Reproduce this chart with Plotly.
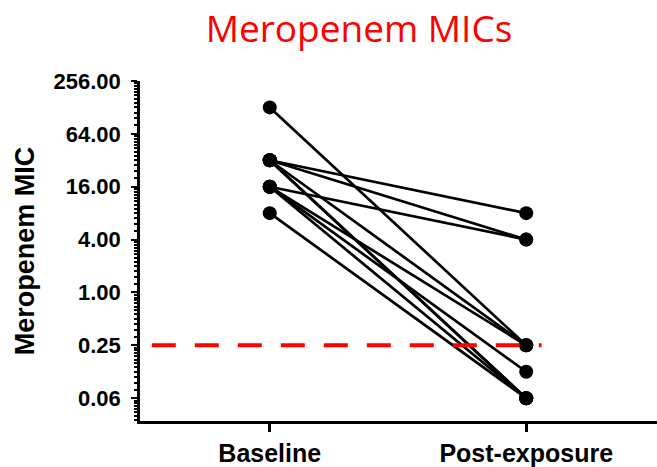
import plotly.graph_objects as go

categories = ["Baseline", "Post-exposure"]
baseline = [128, 32, 32, 32, 32, 32, 16, 16, 16, 16, 8]
post = [0.25, 8, 4, 0.25, 0.0625, 0.0625, 4, 0.25, 0.125, 0.0625, 0.0625]
tick_vals = [256, 64, 16, 4, 1, 0.25, 0.0625]
tick_text = ["256.00", "64.00", "16.00", "4.00", "1.00", "0.25", "0.06"]
breakpoint_mic = 0.25
breakpoint_span = [-0.46, 1.06]

minor_vals = []
for a in [0.015625, 0.0625, 0.25, 1, 4, 16, 64]:
    for k in range(1, 12):
        minor_vals.append(a + k * a / 4)

fig = go.Figure()
for b, p in zip(baseline, post):
    fig.add_trace(go.Scatter(
        x=[0, 1], y=[b, p], mode="lines+markers",
        line=dict(color="black", width=2.7),
        marker=dict(color="black", size=14),
        showlegend=False, hoverinfo="skip"))

fig.add_trace(go.Scatter(
    x=breakpoint_span, y=[breakpoint_mic, breakpoint_mic], mode="lines",
    line=dict(color="#ff0000", width=4, dash="24px,19px"),
    showlegend=False, hoverinfo="skip"))

fig.update_layout(
    width=657, height=467,
    margin=dict(l=140, r=0, t=81, b=44),
    plot_bgcolor="white", paper_bgcolor="white",
    title=dict(text="Meropenem MICs", x=359 / 657, xanchor="center",
               y=1 - 29 / 467, yanchor="middle", yref="container",
               font=dict(family="Open Sans", size=37, color="#ff0000")),
    xaxis=dict(
        range=[-0.506, 1.51], tickmode="array", tickvals=[0, 1],
        ticktext=categories, showline=True, linecolor="black", linewidth=2.5,
        ticks="outside", ticklen=8, tickwidth=2.5, tickcolor="black",
        showgrid=False, zeroline=False,
        tickfont=dict(family="Liberation Sans", size=25, color="black", weight="bold")),
    yaxis=dict(
        type="log", range=[-1.464, 2.408], tickmode="array",
        tickvals=tick_vals, ticktext=tick_text, showline=True,
        linecolor="black", linewidth=2.5, ticks="outside", ticklen=6,
        tickwidth=2, tickcolor="black", showgrid=False, zeroline=False,
        ticklabelstandoff=6,
        minor=dict(tickmode="array", tickvals=minor_vals, ticks="outside",
                   ticklen=3, tickwidth=1.5, tickcolor="black", showgrid=False),
        tickfont=dict(family="Liberation Sans", size=22, color="black", weight="bold"),
        title=dict(text="Meropenem MIC", standoff=12,
                   font=dict(family="Liberation Sans", size=27, color="black", weight="bold"))),
)

fig.write_html("out.html", config={"displayModeBar": False},
               post_script="document.body.style.margin='0';")
